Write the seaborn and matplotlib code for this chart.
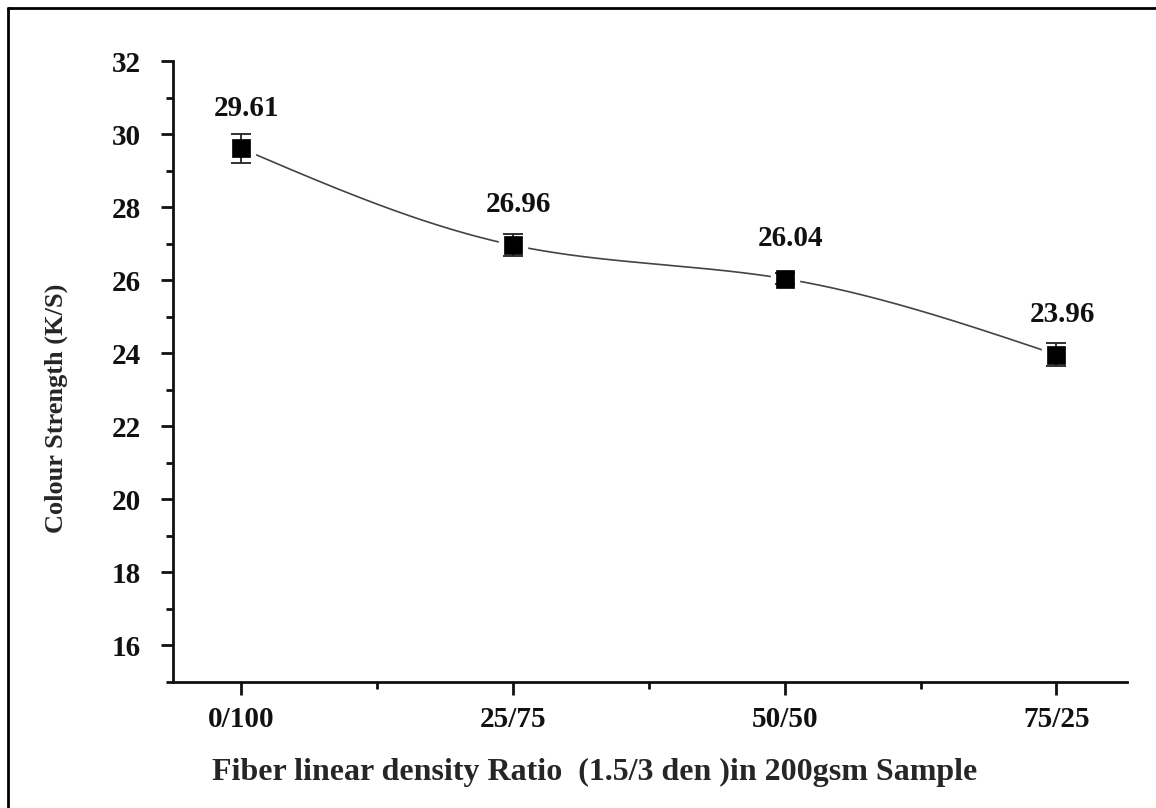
import numpy as np
import pandas as pd
import matplotlib
matplotlib.use("Agg")
import matplotlib.pyplot as plt
from matplotlib.lines import Line2D
from matplotlib.ticker import MultipleLocator
import seaborn as sns

categories = ["0/100", "25/75", "50/50", "75/25"]
values = [29.61, 26.96, 26.04, 23.96]
errors = [0.40, 0.30, 0.15, 0.32]
labels = ["29.61", "26.96", "26.04", "23.96"]

sns.set_theme(style="ticks")
plt.rcParams['font.family'] = ['Liberation Serif', 'DejaVu Serif']
plt.rcParams['font.weight'] = 'bold'

x = np.arange(len(categories), dtype=float)
y = np.array(values)

# natural cubic spline connecting the points (Origin-style spline line)
def natural_spline(xk, yk, xs):
    n = len(xk)
    h = np.diff(xk)
    A = np.zeros((n, n)); b = np.zeros(n)
    A[0, 0] = 1; A[-1, -1] = 1
    for i in range(1, n - 1):
        A[i, i - 1] = h[i - 1]; A[i, i] = 2 * (h[i - 1] + h[i]); A[i, i + 1] = h[i]
        b[i] = 3 * ((yk[i + 1] - yk[i]) / h[i] - (yk[i] - yk[i - 1]) / h[i - 1])
    c = np.linalg.solve(A, b)
    out = np.empty_like(xs)
    for j, xv in enumerate(xs):
        i = min(max(np.searchsorted(xk, xv) - 1, 0), n - 2)
        dx = xv - xk[i]
        bi = (yk[i + 1] - yk[i]) / h[i] - h[i] * (2 * c[i] + c[i + 1]) / 3
        di = (c[i + 1] - c[i]) / (3 * h[i])
        out[j] = yk[i] + bi * dx + c[i] * dx ** 2 + di * dx ** 3
    return out

xs = np.linspace(x[0], x[-1], 400)
curve = pd.DataFrame({"x": xs, "y": natural_spline(x, y, xs)})
pts = pd.DataFrame({"x": x, "y": y})

fig = plt.figure(figsize=(11.56, 8.08), dpi=100)
ax = fig.add_axes([0.1497, 0.156, 0.8253, 0.7685])

sns.lineplot(data=curve, x="x", y="y", ax=ax, color="#444444", lw=1.2, zorder=1)
# white gap around symbols
ax.plot(x, y, ls="none", marker="s", ms=20, mfc="white", mec="white", zorder=2)
ax.errorbar(x, y, yerr=errors, fmt="none", ecolor="#222222", elinewidth=1.3, capsize=7, capthick=1.3, zorder=3)
sns.scatterplot(data=pts, x="x", y="y", ax=ax, marker="s", s=150, color="black", edgecolor="black", linewidth=0.5, zorder=4)

for xi, yi, lab in zip(x, y, labels):
    ax.annotate(lab, (xi, yi), xytext=(4, 29), textcoords="offset points",
                ha="center", va="center", fontsize=21, fontweight="bold", color="#111111")

ax.set_xlim(-0.25, 3.26)
ax.set_ylim(15, 32)
ax.set_xticks(x)
ax.set_xticklabels(categories)
ax.xaxis.set_minor_locator(MultipleLocator(0.5))
ax.set_yticks(np.arange(16, 33, 2))
ax.yaxis.set_minor_locator(MultipleLocator(1))

for s in ["top", "right"]:
    ax.spines[s].set_visible(False)
for s in ["left", "bottom"]:
    ax.spines[s].set_linewidth(2)
    ax.spines[s].set_color("#111111")

ax.tick_params(axis="both", which="major", length=9, width=2, labelsize=21, colors="#111111")
ax.tick_params(axis="both", which="minor", length=5, width=2, colors="#111111")
ax.tick_params(axis="x", which="major", pad=8)
ax.tick_params(axis="y", which="major", pad=14)
for t in ax.get_xticklabels() + ax.get_yticklabels():
    t.set_fontweight("bold")

ax.set_xlabel("Fiber linear density Ratio  (1.5/3 den )in 200gsm Sample", fontsize=23, fontweight="bold")
ax.set_ylabel("Colour Strength (K/S)", fontsize=19, fontweight="bold")
ax.xaxis.set_label_coords(0.442, -0.122)
ax.yaxis.set_label_coords(-0.110, 0.44)

# outer frame (left and top edges)
fig.add_artist(Line2D([8 / 1156, 8 / 1156], [0, 1 - 8 / 808], transform=fig.transFigure, color="black", lw=2))
fig.add_artist(Line2D([8 / 1156, 1], [1 - 8 / 808, 1 - 8 / 808], transform=fig.transFigure, color="black", lw=2))

fig.savefig("out.png", dpi=100, facecolor="white")
